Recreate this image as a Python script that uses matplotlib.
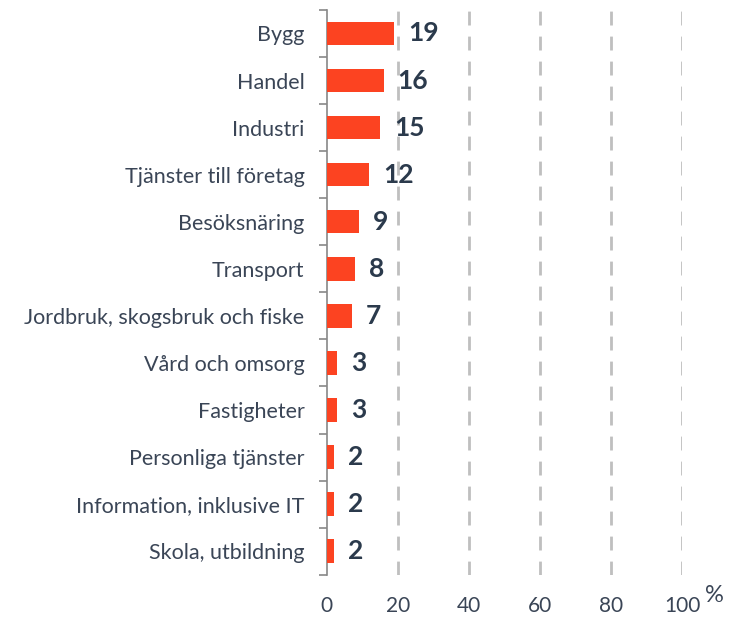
import numpy as np
import matplotlib
matplotlib.use("Agg")
import matplotlib.pyplot as plt

categories = ["Bygg", "Handel", "Industri", "Tjänster till företag", "Besöksnäring",
              "Transport", "Jordbruk, skogsbruk och fiske", "Vård och omsorg",
              "Fastigheter", "Personliga tjänster", "Information, inklusive IT",
              "Skola, utbildning"]
values = [19, 16, 15, 12, 9, 8, 7, 3, 3, 2, 2, 2]
xticks = [0, 20, 40, 60, 80, 100]

bar_color = "#FC4321"
text_color = "#3A4556"
num_color = "#2B3A4C"

plt.rcParams["font.family"] = ["Lato", "DejaVu Sans"]

fig = plt.figure(figsize=(7.31, 6.2), dpi=100)
ax = fig.add_axes([0.447, 0.073, 0.486, 0.911])

y = np.arange(len(categories))
ax.barh(y, values, height=0.5, color=bar_color, zorder=3)

for yi, v in zip(y, values):
    ax.annotate(str(v), (v, yi), xytext=(10, 0), textcoords="offset points",
                va="center", ha="left", fontsize=19, fontweight="bold",
                color=num_color, zorder=4)

ax.set_xlim(0, 100)
ax.set_ylim(len(categories) - 0.5, -0.5)
ax.set_yticks(y)
ax.set_yticklabels(categories, fontsize=15.5, color=text_color)
ax.set_yticks(np.arange(len(categories) + 1) - 0.5, minor=True)
ax.tick_params(axis="y", which="major", length=0, pad=16)
ax.tick_params(axis="y", which="minor", length=6, color="#888888", width=1.2)

ax.set_xticks(xticks)
ax.set_xticklabels([str(t) for t in xticks], fontsize=15, color=text_color)
ax.tick_params(axis="x", length=0, pad=15)

for t in xticks[1:]:
    ax.axvline(t, color="#BFBFBF", linestyle=(0, (5, 4)), linewidth=2, zorder=1)

for s in ["top", "right", "bottom"]:
    ax.spines[s].set_visible(False)
ax.spines["left"].set_color("#888888")
ax.spines["left"].set_linewidth(1.2)

fig.text(0.978, 0.04, "%", fontsize=17, color=text_color, ha="center", va="center")

fig.savefig("out.png", dpi=100)
